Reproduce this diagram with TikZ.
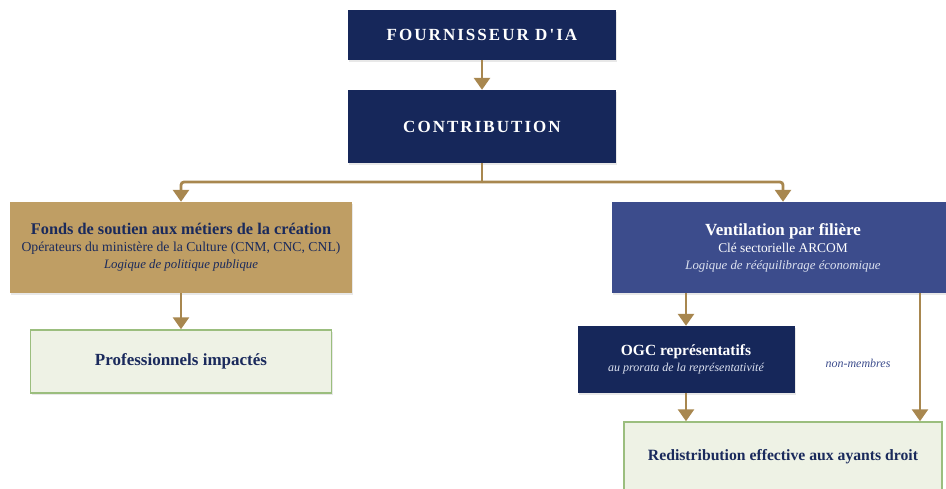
\documentclass[tikz,border=0pt]{standalone}
\usepackage{fontspec}
\setmainfont{Liberation Serif}
\newfontfamily\capsfont[LetterSpace=12]{Liberation Serif}
\usetikzlibrary{arrows.meta,shadows}
\definecolor{navy}{HTML}{16275A}
\definecolor{gold}{HTML}{BF9E64}
\definecolor{arrowgold}{HTML}{A8874F}
\definecolor{indigo}{HTML}{3C4C8C}
\definecolor{sage}{HTML}{EEF2E5}
\definecolor{sageline}{HTML}{9BBE7E}
\definecolor{ink}{HTML}{1A2A5C}
\definecolor{pale}{HTML}{DDE2F0}
\newcommand{\fsz}[2]{\fontsize{#1}{#2}\selectfont}

\tikzset{
  box/.style={rectangle, inner sep=0pt, align=center, font=\fsz{12}{17},
    drop shadow={opacity=0.18, shadow xshift=1pt, shadow yshift=-2pt}},
  darkbox/.style={box, fill=navy, text=white},
  goldbox/.style={box, fill=gold, text=ink},
  midbox/.style={box, fill=indigo, text=white},
  endbox/.style={box, fill=sage, draw=sageline, line width=1.5pt, text=ink},
  flow/.style={draw=arrowgold, line width=2.8pt, rounded corners=3pt,
    -{Triangle[width=16pt,length=12pt]}},
  link/.style={draw=arrowgold, line width=2.8pt},
}

\begin{document}
\begin{tikzpicture}[x=1pt,y=-1pt]
\useasboundingbox (0,0) rectangle (946,488);

% haut
\node[darkbox, minimum width=268, minimum height=50] (fourn) at (482,35)
  {\capsfont\bfseries\fsz{17}{20}FOURNISSEUR D'IA};
\node[darkbox, minimum width=268, minimum height=73] (contrib) at (482,126.5)
  {\capsfont\bfseries\fsz{17}{20}CONTRIBUTION};

% deux branches
\node[goldbox, minimum width=342, minimum height=91] (fonds) at (181,247.5)
  {{\bfseries\fsz{16.3}{17}Fonds de soutien aux métiers de la création}\\
   {\fsz{13.7}{16}Opérateurs du ministère de la Culture (CNM, CNC, CNL)}\\
   {\itshape\fsz{12.8}{16}Logique de politique publique}};
\node[midbox, minimum width=342, minimum height=91] (vent) at (783,247.5)
  {{\bfseries\fsz{17}{17}Ventilation par filière}\\
   {\fsz{13.4}{16}Clé sectorielle ARCOM}\\
   {\itshape\color{pale}\fsz{12.8}{16}Logique de rééquilibrage économique}};

% bas
\node[endbox, minimum width=301, minimum height=63] (prof) at (181,361.5)
  {\bfseries\fsz{17}{20}Professionnels impactés};
\node[darkbox, minimum width=217, minimum height=67, font=\fsz{12}{16}] (ogc) at (686,359.5)
  {{\bfseries\fsz{15.5}{16}OGC représentatifs}\\
   {\itshape\color{pale}\fsz{12}{13}au prorata de la représentativité}};
\node[endbox, minimum width=318, minimum height=70] (redis) at (783,457)
  {\bfseries\fsz{15.7}{19}Redistribution effective aux ayants droit};
\node[text=indigo, font=\itshape\fsz{12}{14}] (nonmb) at (858,363) {non-membres};

\coordinate (split) at (482,182);
\coordinate (side) at (920,0);

\draw[flow] (fourn) -- (contrib);
\draw[link] (contrib.south) -- (split);
\draw[flow] (split) -| (fonds.north);
\draw[flow] (split) -| (vent.north);
\draw[flow] (fonds.south) -- (prof.north);
\draw[flow] (ogc.north |- vent.south) -- (ogc.north);
\draw[flow] (ogc.south) -- (ogc.south |- redis.north);
\draw[flow] (side |- vent.south) -- (side |- redis.north);
\end{tikzpicture}
\end{document}
